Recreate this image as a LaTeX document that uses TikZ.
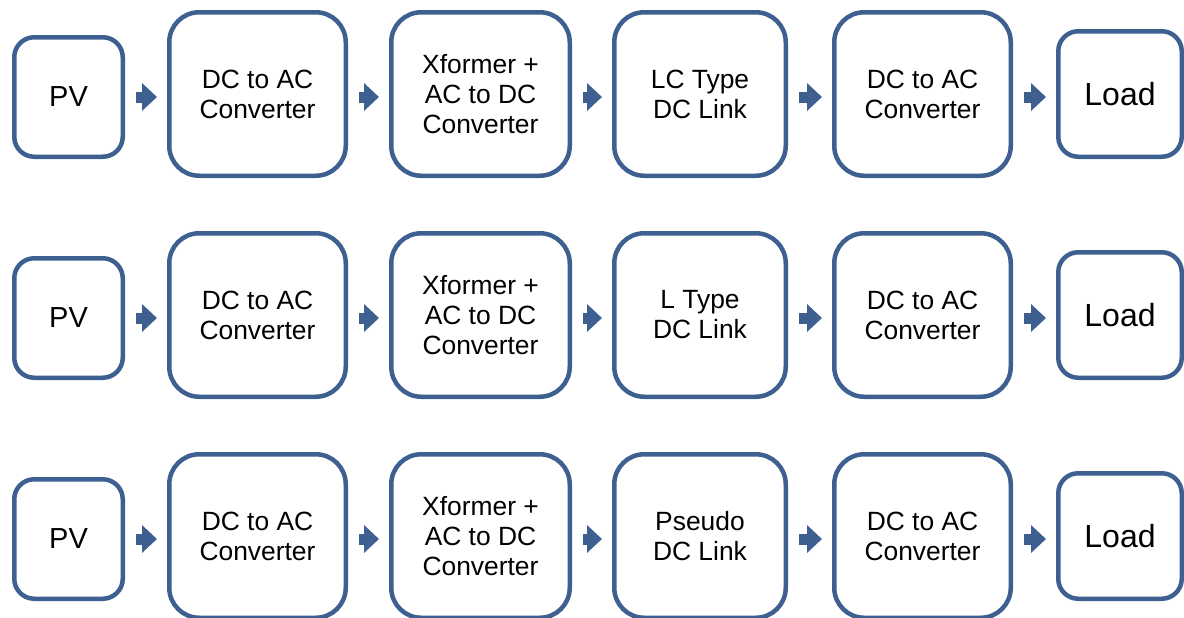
\documentclass[tikz,border=0pt]{standalone}
\usepackage{fontspec}
\setmainfont{Liberation Sans}
\usetikzlibrary{arrows.meta}
\definecolor{blockblue}{RGB}{61,96,145}
\tikzset{
  block/.style={draw=blockblue, line width=2.25pt, fill=white, rounded corners=15pt,
    align=center, inner sep=0pt, minimum height=81.75pt, font=\fontsize{13.2}{15}\selectfont},
  endblock/.style={block, rounded corners=10pt},
  flow/.style={blockblue, line width=5.5pt, -{Triangle[length=7.5pt,width=13.5pt]},
    shorten <=5.5pt, shorten >=5pt}
}
\begin{document}
\begin{tikzpicture}[x=0.5pt, y=-0.5pt]
  \useasboundingbox (0,0) rectangle (1184,617);
  \foreach \r/\y/\link in {1/94/LC Type, 2/315/L Type, 3/536/Pseudo}{
    \node [endblock, minimum width=54.25pt, minimum height=59.75pt,
      font=\fontsize{14.5}{17}\selectfont] (pv\r) at (68.5,\y+3) {PV};
    \node [block, minimum width=88.25pt] (dca\r) at (257.5,\y) {DC to AC\\Converter};
    \node [block, minimum width=89.25pt] (xf\r) at (480.5,\y) {Xformer +\\AC to DC\\Converter};
    \node [block, minimum width=85.75pt] (link\r) at (700,\y) {\link\\DC Link};
    \node [block, minimum width=88.25pt] (dcb\r) at (922.5,\y) {DC to AC\\Converter};
    \node [endblock, minimum width=61.75pt, minimum height=62.75pt,
      font=\fontsize{16}{19}\selectfont] (load\r) at (1120,\y) {Load};

    \draw [flow] (pv\r.east) -- (dca\r.west |- pv\r);
    \draw [flow] (dca\r.east |- pv\r) -- (xf\r.west |- pv\r);
    \draw [flow] (xf\r.east |- pv\r) -- (link\r.west |- pv\r);
    \draw [flow] (link\r.east |- pv\r) -- (dcb\r.west |- pv\r);
    \draw [flow] (dcb\r.east |- pv\r) -- (load\r.west |- pv\r);
  }
\end{tikzpicture}
\end{document}
